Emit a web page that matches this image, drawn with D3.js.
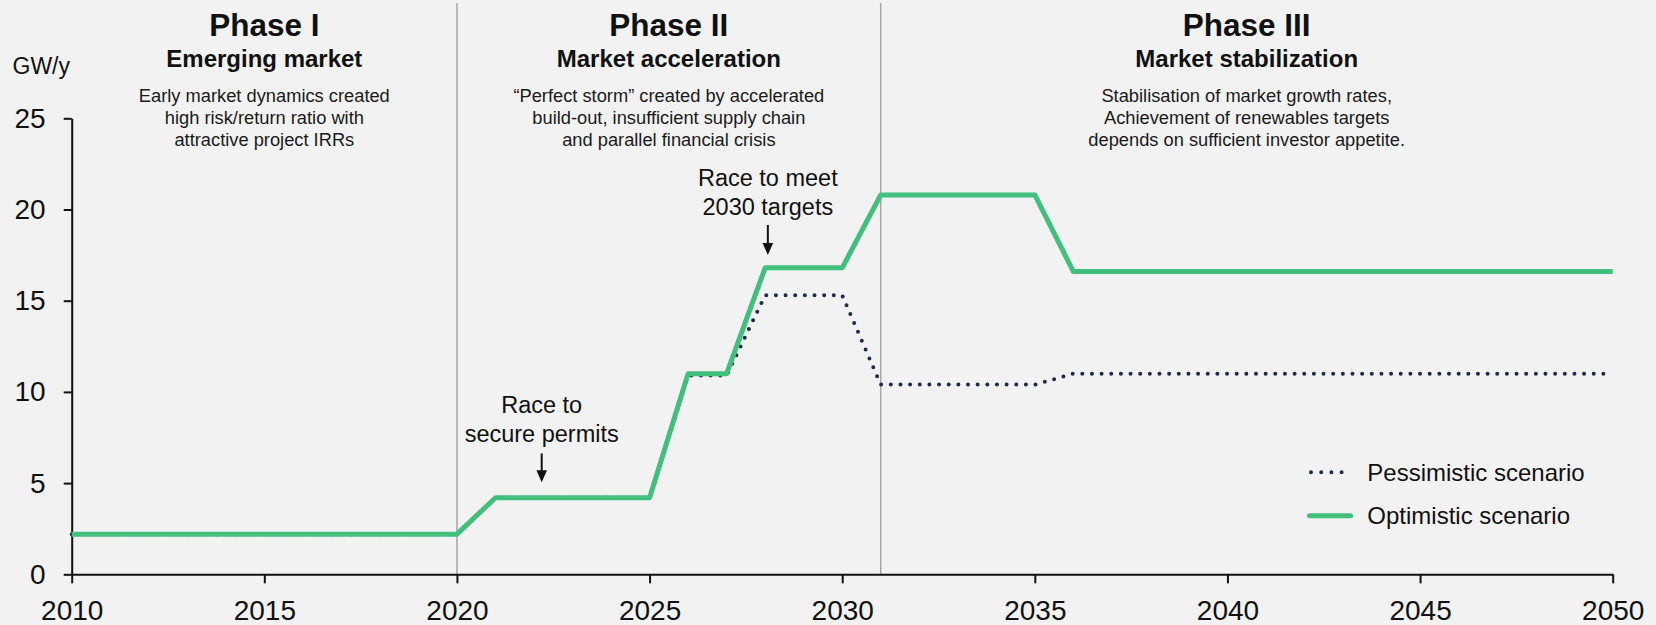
<!DOCTYPE html>
<html>
<head>
<meta charset="utf-8">
<script src="https://cdn.jsdelivr.net/npm/d3@7"></script>
<style>
  html, body { margin: 0; padding: 0; background: #f2f2f2; }
  svg { display: block; font-family: "Liberation Sans", Arial, sans-serif; }
</style>
</head>
<body>
<svg id="chart" width="1656" height="625"></svg>
<script>
// Annual offshore build-out, GW per year
const years       = [2010, 2020, 2021, 2025, 2026, 2027, 2028, 2030, 2031, 2035, 2036, 2050];
const optimistic  = [2.2,  2.2,  4.2,  4.2,  11,   11,   16.8, 16.8, 20.8, 20.8, 16.6, 16.6];
const pessimistic = [2.2,  2.2,  4.2,  4.2,  10.9, 10.9, 15.3, 15.3, 10.4, 10.4, 11,   11];

const xTicks = [2010, 2015, 2020, 2025, 2030, 2035, 2040, 2045, 2050];
const yTicks = [0, 5, 10, 15, 20, 25];

// Phase boundaries (years) and their headings
const phaseBounds = [2010, 2020, 2031, 2050];
const phaseTitles = ["Phase I", "Phase II", "Phase III"];
const phaseSubtitles = ["Emerging market", "Market acceleration", "Market stabilization"];
const phaseNotes = [
  ["Early market dynamics created", "high risk/return ratio with", "attractive project IRRs"],
  ["\u201CPerfect storm\u201D created by accelerated", "build-out, insufficient supply chain", "and parallel financial crisis"],
  ["Stabilisation of market growth rates,", "Achievement of renewables targets", "depends on sufficient investor appetite."]
];

// Callouts: year of arrow, text baseline value, arrow start/end values
const callouts = [
  { lines: ["Race to", "secure permits"], year: 2022.2, textAt: 8.83, from: 6.63, to: 5.04 },
  { lines: ["Race to meet", "2030 targets"], year: 2028.07, textAt: 21.3, from: 19.15, to: 17.5 }
];

const seriesNames = ["Pessimistic scenario", "Optimistic scenario"];

const green = "#40c07c";
const navy = "#1e2b4a";
const ink = "#111111";

const svg = d3.select("#chart");

const x = d3.scaleLinear().domain([2010, 2050]).range([71.7, 1612.7]);
const y = d3.scaleLinear().domain([0, 25]).range([574.3, 118.3]);

// Phase dividers
svg.append("g").selectAll("line")
  .data(phaseBounds.slice(1, -1))
  .join("line")
  .attr("x1", d => x(d)).attr("x2", d => x(d))
  .attr("y1", 3).attr("y2", y(0))
  .attr("stroke", "#a6a6a6").attr("stroke-width", 1.5);

// Phase headings
const heads = svg.append("g").attr("fill", ink).attr("text-anchor", "middle");
phaseTitles.forEach((t, i) => {
  const cx = (x(phaseBounds[i]) + x(phaseBounds[i + 1])) / 2;
  heads.append("text").attr("x", cx).attr("y", 36)
    .attr("font-size", 31.5).attr("font-weight", "bold").text(t);
  heads.append("text").attr("x", cx).attr("y", 66.7)
    .attr("font-size", 24).attr("font-weight", "bold").text(phaseSubtitles[i]);
  phaseNotes[i].forEach((line, j) => {
    heads.append("text").attr("x", cx).attr("y", 101.5 + j * 22.1)
      .attr("font-size", 18.3).attr("fill", "#1a1a1a").text(line);
  });
});

// Unit label
svg.append("text").attr("x", 12.5).attr("y", 74)
  .attr("font-size", 23).attr("fill", ink).text("GW/y");

// Axes
const xAxis = svg.append("g")
  .attr("transform", `translate(0,${y(0)})`)
  .call(d3.axisBottom(x).tickValues(xTicks).tickFormat(d3.format("d"))
    .tickSize(9).tickSizeOuter(0).tickPadding(17));
const yAxis = svg.append("g")
  .attr("transform", `translate(${x(2010)},0)`)
  .call(d3.axisLeft(y).tickValues(yTicks).tickSize(8).tickSizeOuter(0).tickPadding(18));

[xAxis, yAxis].forEach(g => {
  g.selectAll("path, line").attr("stroke", ink).attr("stroke-width", 2);
  g.selectAll("text").attr("font-size", 28).attr("fill", ink)
    .attr("font-family", "\"Liberation Sans\", Arial, sans-serif");
});

// Series
const line = d3.line().x((d, i) => x(years[i])).y(d => y(d));

svg.append("path")
  .datum(pessimistic)
  .attr("d", line)
  .attr("fill", "none")
  .attr("stroke", navy).attr("stroke-width", 4)
  .attr("stroke-linecap", "round")
  .attr("stroke-dasharray", "0 9.65");

svg.append("path")
  .datum(optimistic)
  .attr("d", line)
  .attr("fill", "none")
  .attr("stroke", green).attr("stroke-width", 5)
  .attr("stroke-linejoin", "round");

// Callouts with arrows
const co = svg.append("g").attr("fill", ink);
callouts.forEach(c => {
  const cx = x(c.year);
  c.lines.forEach((t, j) => {
    co.append("text").attr("x", cx).attr("y", y(c.textAt) + j * 28.8)
      .attr("text-anchor", "middle").attr("font-size", 23.5).text(t);
  });
  const y0 = y(c.from), y1 = y(c.to);
  co.append("line").attr("x1", cx).attr("x2", cx).attr("y1", y0).attr("y2", y1 - 10)
    .attr("stroke", ink).attr("stroke-width", 2);
  co.append("path")
    .attr("d", `M${cx - 5.3},${y1 - 12} L${cx + 5.3},${y1 - 12} L${cx},${y1} Z`)
    .attr("fill", ink);
});

// Legend
const lg = svg.append("g");
lg.append("line").attr("x1", 1311).attr("x2", 1342).attr("y1", 472.3).attr("y2", 472.3)
  .attr("stroke", navy).attr("stroke-width", 4)
  .attr("stroke-linecap", "round").attr("stroke-dasharray", "0 10.2");
lg.append("line").attr("x1", 1309.5).attr("x2", 1350.5).attr("y1", 515.7).attr("y2", 515.7)
  .attr("stroke", green).attr("stroke-width", 5).attr("stroke-linecap", "round");
seriesNames.forEach((n, i) => {
  lg.append("text").attr("x", 1367.3).attr("y", 480.7 + i * 42.8)
    .attr("font-size", 24).attr("fill", ink).text(n);
});
</script>
</body>
</html>
